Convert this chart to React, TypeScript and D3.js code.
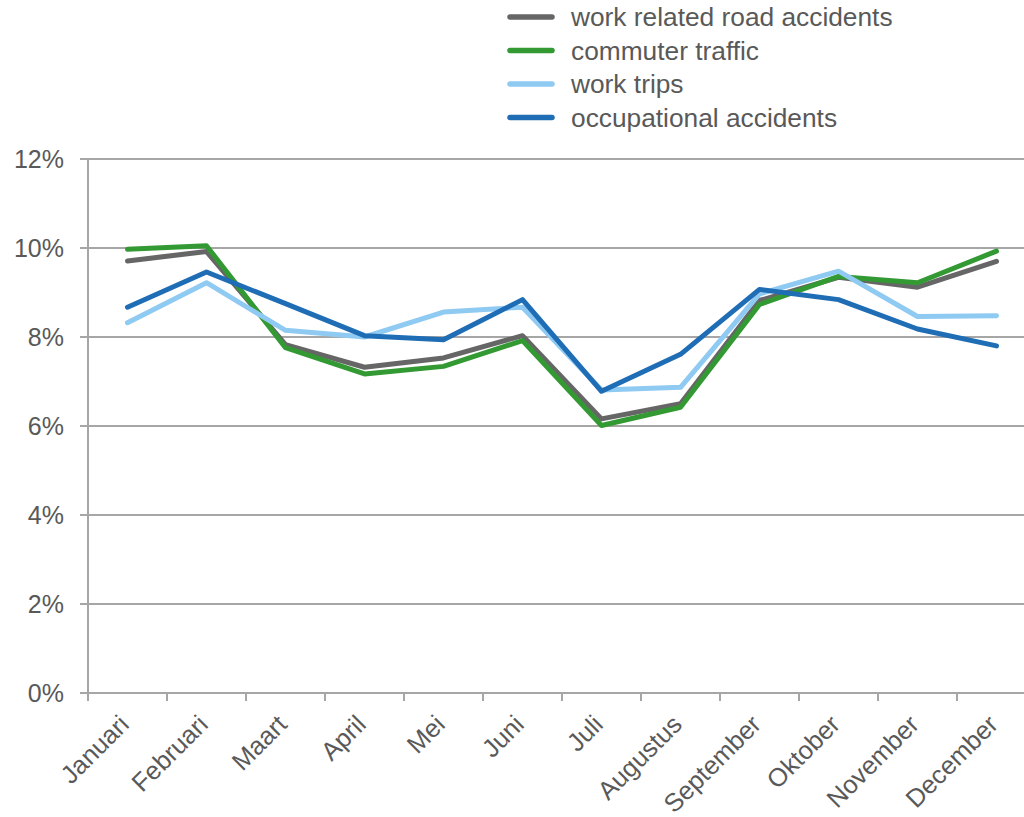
import { useEffect, useRef } from "react";
import * as d3 from "d3";

const months = [
  "Januari",
  "Februari",
  "Maart",
  "April",
  "Mei",
  "Juni",
  "Juli",
  "Augustus",
  "September",
  "Oktober",
  "November",
  "December",
];

const seriesNames = [
  "work related road accidents",
  "commuter traffic",
  "work trips",
  "occupational accidents",
];

const seriesColors = ["#666666", "#339933", "#8fcaf2", "#1f6db5"];

// percentages per month
const workRoad = [9.71, 9.92, 7.83, 7.32, 7.53, 8.03, 6.16, 6.5, 8.82, 9.34, 9.12, 9.7];
const commuter = [9.97, 10.05, 7.76, 7.17, 7.34, 7.92, 6.01, 6.42, 8.73, 9.36, 9.22, 9.93];
const workTrips = [8.32, 9.22, 8.15, 8.0, 8.56, 8.67, 6.81, 6.87, 8.97, 9.48, 8.46, 8.48];
const occupational = [8.67, 9.46, 8.75, 8.03, 7.94, 8.84, 6.78, 7.61, 9.07, 8.84, 8.18, 7.8];

const yTicks = [0, 2, 4, 6, 8, 10, 12];

const App = () => {
  const chartRef = useRef(null);

  useEffect(() => {
    if (!chartRef.current) return;
    const width = 1024;
    const height = 817;
    const margin = { top: 159, left: 88, bottom: 124 };
    const font = "'Liberation Sans', Arial, sans-serif";
    const textColor = "#595959";
    const gridColor = "#a6a6a6";

    d3.select(chartRef.current).html("");
    const svg = d3
      .select(chartRef.current)
      .append("svg")
      .attr("width", width)
      .attr("height", height)
      .style("position", "absolute")
      .style("left", "0")
      .style("top", "0")
      .style("font-family", font);

    const xScale = d3
      .scaleBand()
      .domain(months)
      .range([margin.left, margin.left + 79 * 12]);

    const yScale = d3
      .scaleLinear()
      .domain([0, 12])
      .range([height - margin.bottom, margin.top]);

    // gridlines
    svg
      .append("g")
      .selectAll("line")
      .data(yTicks)
      .join("line")
      .attr("x1", margin.left - 8)
      .attr("x2", width)
      .attr("y1", (d) => yScale(d))
      .attr("y2", (d) => yScale(d))
      .attr("stroke", gridColor)
      .attr("stroke-width", 2);

    // y labels
    svg
      .append("g")
      .selectAll("text")
      .data(yTicks)
      .join("text")
      .attr("x", 64)
      .attr("y", (d) => yScale(d))
      .attr("dy", "0.35em")
      .attr("text-anchor", "end")
      .attr("font-size", 25)
      .attr("fill", textColor)
      .text((d) => `${d}%`);

    // y axis line
    svg
      .append("line")
      .attr("x1", margin.left)
      .attr("x2", margin.left)
      .attr("y1", yScale(12))
      .attr("y2", yScale(0) + 8)
      .attr("stroke", gridColor)
      .attr("stroke-width", 2);

    // x ticks between categories
    svg
      .append("g")
      .selectAll("line")
      .data(months)
      .join("line")
      .attr("x1", (d) => (xScale(d) as number) + xScale.bandwidth())
      .attr("x2", (d) => (xScale(d) as number) + xScale.bandwidth())
      .attr("y1", yScale(0))
      .attr("y2", yScale(0) + 8)
      .attr("stroke", gridColor)
      .attr("stroke-width", 2);

    // x labels
    svg
      .append("g")
      .selectAll("text")
      .data(months)
      .join("text")
      .attr("transform", (d) => {
        const cx = (xScale(d) as number) + xScale.bandwidth() / 2;
        return `translate(${cx + 3},${yScale(0) + 33}) rotate(-45)`;
      })
      .attr("text-anchor", "end")
      .attr("font-size", 25.5)
      .attr("fill", textColor)
      .text((d) => d);

    const allSeries = [workRoad, commuter, workTrips, occupational];

    const line = d3
      .line<number>()
      .x((_, i) => (xScale(months[i]) as number) + xScale.bandwidth() / 2)
      .y((d) => yScale(d));

    allSeries.forEach((values, i) => {
      svg
        .append("path")
        .datum(values)
        .attr("d", line)
        .attr("fill", "none")
        .attr("stroke", seriesColors[i])
        .attr("stroke-width", 5)
        .attr("stroke-linejoin", "round")
        .attr("stroke-linecap", "round");
    });

    // legend
    const legend = svg
      .append("g")
      .selectAll("g")
      .data(seriesNames)
      .join("g")
      .attr("transform", (_, i) => `translate(510,${17 + i * 33.5})`);

    legend
      .append("line")
      .attr("x1", 0)
      .attr("x2", 42)
      .attr("stroke", (_, i) => seriesColors[i])
      .attr("stroke-width", 5.5)
      .attr("stroke-linecap", "round");

    legend
      .append("text")
      .attr("x", 61)
      .attr("dy", "0.35em")
      .attr("font-size", 26.3)
      .attr("fill", textColor)
      .text((d) => d);
  }, []);

  return <div ref={chartRef}></div>;
};

export default App;
